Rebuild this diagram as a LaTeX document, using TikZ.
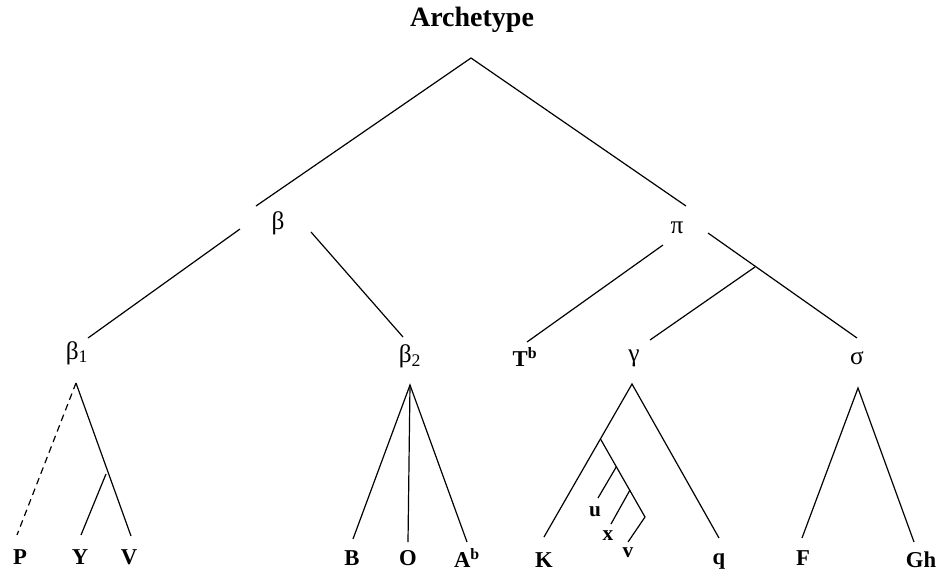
\documentclass[tikz,border=0pt]{standalone}
\usepackage{fontspec}
\setmainfont{Liberation Serif}
\begin{document}
\begin{tikzpicture}[x=0.75pt,y=-0.75pt,
  lbl/.style={font=\fontsize{17}{20}\selectfont\bfseries, inner sep=0pt},
  grk/.style={font=\fontsize{19}{22}\selectfont, inner sep=0pt},
  ttl/.style={font=\fontsize{21}{24}\selectfont\bfseries, inner sep=0pt},
  sml/.style={font=\fontsize{16}{18}\selectfont\bfseries, inner sep=0pt},
  edge/.style={line width=0.9pt, black},
  dedge/.style={edge, dashed, dash pattern=on 5pt off 3.5pt}]
\useasboundingbox (0,0) rectangle (947,576);
% labels
\node[ttl] (arch) at (472,20) {Archetype};
\node[grk] (beta) at (278,223) {β};
\node[grk] (pi) at (677,228) {π};
\node[grk] (b1) at (77,353) {β\textsubscript{1}};
\node[grk] (b2) at (410,356) {β\textsubscript{2}};
\node[lbl] (T) at (525,357) {T\textsuperscript{b}};
\node[grk] (gam) at (634,358) {γ};
\node[grk] (sig) at (857,358) {σ};
\node[lbl] (P) at (20,557) {P};
\node[lbl] (Y) at (80,557) {Y};
\node[lbl] (V) at (129,557) {V};
\node[lbl] (B) at (352,558) {B};
\node[lbl] (O) at (408,558) {O};
\node[lbl] (A) at (467,558) {A\textsuperscript{b}};
\node[lbl] (K) at (544,560) {K};
\node[lbl] (q) at (719,561) {q};
\node[sml] (u) at (595,512) {u};
\node[sml] (x) at (608,536) {x};
\node[sml] (v) at (628,553) {v};
\node[lbl] (F) at (803,558) {F};
\node[lbl] (Gh) at (921,560) {Gh};
% coordinates
\coordinate (a0) at (471,58);
\coordinate (a0l) at (256,206);
\coordinate (a0r) at (686,206);
\coordinate (bl) at (240,229);
\coordinate (b1e) at (88,338);
\coordinate (br) at (311,232);
\coordinate (b2e) at (403,337);
\coordinate (pl) at (663,245);
\coordinate (Te) at (527,342);
\coordinate (pr) at (708,233);
\coordinate (sige) at (857,338);
\coordinate (pj) at (755,267);
\coordinate (game) at (650,340);
\coordinate (b1a) at (76,383);
\coordinate (Pe) at (17,535);
\coordinate (Ve) at (131,536);
\coordinate (yj) at (106,474);
\coordinate (Ye) at (81,535);
\coordinate (b2a) at (410,385);
\coordinate (Be) at (353,539);
\coordinate (Oe) at (408,542);
\coordinate (Ae) at (467,542);
\coordinate (ga) at (632,384);
\coordinate (Ke) at (544,537);
\coordinate (qe) at (719,538);
\coordinate (gj1) at (600.5,439);
\coordinate (gk) at (645,517);
\coordinate (ve) at (628,542);
\coordinate (gj2) at (616.5,466.5);
\coordinate (ue) at (598,498);
\coordinate (gj3) at (630,490);
\coordinate (xe) at (611,524);
\coordinate (sa) at (858,388);
\coordinate (Fe) at (802,538);
\coordinate (Ghe) at (914,542);
% edges
\draw[edge] (a0l) -- (a0) -- (a0r);
\draw[edge] (bl) -- (b1e);
\draw[edge] (br) -- (b2e);
\draw[edge] (pl) -- (Te);
\draw[edge] (pr) -- (sige);
\draw[edge] (pj) -- (game);
\draw[dedge] (b1a) -- (Pe);
\draw[edge] (b1a) -- (Ve);
\draw[edge] (yj) -- (Ye);
\draw[edge] (Be) -- (b2a) -- (Ae);
\draw[edge] (b2a) -- (Oe);
\draw[edge] (Ke) -- (ga) -- (qe);
\draw[edge] (gj1) -- (gk) -- (ve);
\draw[edge] (gj2) -- (ue);
\draw[edge] (gj3) -- (xe);
\draw[edge] (Fe) -- (sa) -- (Ghe);
\end{tikzpicture}
\end{document}
